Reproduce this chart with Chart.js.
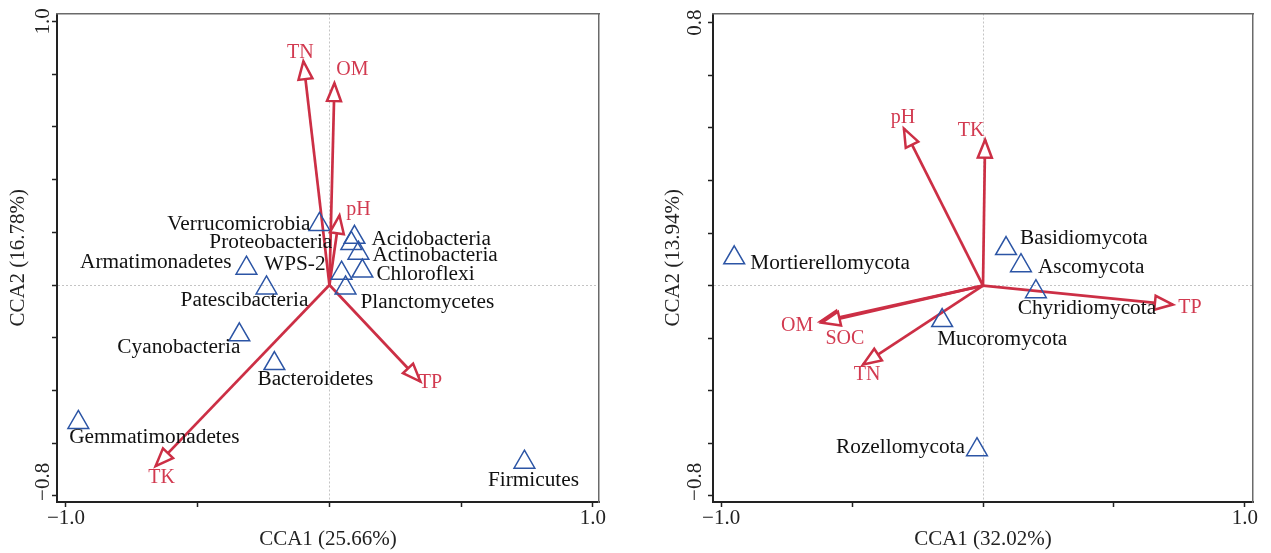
<!DOCTYPE html>
<html lang="en">
<head>
<meta charset="UTF-8">
<title>CCA</title>
<style>
  html, body { margin: 0; padding: 0; background: #fff; }
  .wrap { position: relative; width: 1271px; height: 553px; }
  #left { position: absolute; left: 0; top: 0; }
  #right { position: absolute; left: 640px; top: 0; }
</style>
</head>
<body>
<div class="wrap">
  <canvas id="left" width="640" height="553"></canvas>
  <canvas id="right" width="631" height="553"></canvas>
</div>

<script src="https://cdn.jsdelivr.net/npm/chart.js@4.4.9/dist/chart.umd.min.js"></script>
<script>
// bacteria panel
const bactNames = ['Verrucomicrobia', 'Proteobacteria', 'Acidobacteria', 'Actinobacteria', 'Chloroflexi', 'WPS-2',
    'Planctomycetes', 'Armatimonadetes', 'Patescibacteria', 'Cyanobacteria', 'Bacteroidetes', 'Gemmatimonadetes', 'Firmicutes'];
const bactX = [-0.038, 0.083, 0.095, 0.110, 0.125, 0.046, 0.061, -0.315, -0.239, -0.342, -0.209, -0.953, 0.740];
const bactY = [0.230, 0.158, 0.181, 0.121, 0.053, 0.045, -0.011, 0.064, -0.011, -0.189, -0.298, -0.521, -0.672];
const bactEnv = ['TN', 'OM', 'pH', 'TP', 'TK'];
const bactEnvX = [-0.099, 0.019, 0.038, 0.345, -0.660];
const bactEnvY = [0.849, 0.766, 0.264, -0.366, -0.687];

// fungi panel
const fungiNames = ['Mortierellomycota', 'Basidiomycota', 'Ascomycota', 'Chyridiomycota', 'Mucoromycota', 'Rozellomycota'];
const fungiX = [-0.950, 0.088, 0.145, 0.202, -0.156, -0.023];
const fungiY = [0.106, 0.141, 0.076, -0.023, -0.133, -0.624];
const fungiEnv = ['pH', 'TK', 'TP', 'OM', 'SOC', 'TN'];
const fungiEnvX = [-0.302, 0.008, 0.725, -0.622, -0.615, -0.458];
const fungiEnvY = [0.597, 0.555, -0.072, -0.137, -0.141, -0.300];

// ticks
const xTicks = [-1, -0.5, 0, 0.5, 1];
const xTickLabels = ['−1.0', '', '', '', '1.0'];
const yTicks = [-0.8, -0.6, -0.4, -0.2, 0, 0.2, 0.4, 0.6, 0.8, 1.0];
const bactYTickLabels = ['−0.8', '', '', '', '', '', '', '', '', '1.0'];
const fungiYTickLabels = ['−0.8', '', '', '', '', '', '', '', '', '0.8'];

// label placement (align, dx, dy in px from the point)
const bactLabelPos = [['right', -9, 0], ['right', -19, -1], ['left', 17, 2], ['left', 14, 2], ['left', 14, 3], ['right', -16, -9],
    ['left', 15, 14], ['right', -15, -6], ['center', -22, 12], ['right', 1, 13], ['center', 41, 16], ['center', 76, 15], ['center', 9, 18]];
const bactEnvLabelPos = [[-3, -8], [18, -13], [19, -6], [10, 1], [6, 12]];
const fungiLabelPos = [['left', 16, 6], ['left', 14, -10], ['left', 17, 2], ['center', 51, 17], ['left', -5, 19], ['right', -12, -2]];
const fungiEnvLabelPos = [[-1, -11], [-14, -9], [17, 3], [-23, 4], [23, 16], [4, 10]];

const RED = '#cc2f45';
const RED_TEXT = '#d23a50';
const BLUE = '#2c55a5';
const FONT = "'Liberation Serif', 'Times New Roman', serif";

function arrowHead(ctx, x0, y0, x1, y1) {
    const a = Math.atan2(y1 - y0, x1 - x0);
    const L = 18, W = 7;
    const bx = x1 - L * Math.cos(a), by = y1 - L * Math.sin(a);
    ctx.beginPath();
    ctx.moveTo(x1, y1);
    ctx.lineTo(bx + W * Math.sin(a), by - W * Math.cos(a));
    ctx.lineTo(bx - W * Math.sin(a), by + W * Math.cos(a));
    ctx.closePath();
    ctx.fillStyle = '#fff';
    ctx.fill();
    ctx.strokeStyle = RED;
    ctx.lineWidth = 2.5;
    ctx.stroke();
}

const ccaPlugin = {
    id: 'cca',
    afterDatasetsDraw(chart, args, o) {
        const { ctx, chartArea } = chart;
        const x = chart.scales.x, y = chart.scales.y;
        const x0 = x.getPixelForValue(0), y0 = y.getPixelForValue(0);
        ctx.save();

        o.envX.forEach((vx, i) => {
            arrowHead(ctx, x0, y0, x.getPixelForValue(vx), y.getPixelForValue(o.envY[i]));
        });

        ctx.font = '21.3px ' + FONT;
        ctx.textBaseline = 'middle';
        ctx.fillStyle = '#111';
        o.names.forEach((n, i) => {
            const [al, dx, dy] = o.namePos[i];
            ctx.textAlign = al;
            ctx.fillText(n, x.getPixelForValue(o.spX[i]) + dx, y.getPixelForValue(o.spY[i]) + dy);
        });

        ctx.font = '20px ' + FONT;
        ctx.fillStyle = RED_TEXT;
        ctx.textAlign = 'center';
        o.env.forEach((n, i) => {
            const [dx, dy] = o.envPos[i];
            ctx.fillText(n, x.getPixelForValue(o.envX[i]) + dx, y.getPixelForValue(o.envY[i]) + dy);
        });

        // rotated y tick labels (negative one ends just below its tick)
        ctx.font = '21px ' + FONT;
        ctx.fillStyle = '#222';
        ctx.textAlign = 'left';
        yTicks.forEach((v, i) => {
            const t = o.yLabels[i];
            if (!t) return;
            const w = ctx.measureText(t).width;
            const py = y.getPixelForValue(v);
            ctx.save();
            ctx.translate(chartArea.left - o.yLabelGap, t.startsWith('−') ? py + 5 : py + w / 2);
            ctx.rotate(-Math.PI / 2);
            ctx.fillText(t, 0, 0);
            ctx.restore();
        });
        ctx.restore();
    }
};

function makeChart(id, p) {
    const datasets = [{
        label: 'taxa',
        data: p.spX.map((v, i) => ({ x: v, y: p.spY[i] })),
        pointStyle: 'triangle',
        pointRadius: 12,
        pointHoverRadius: 12,
        borderColor: BLUE,
        backgroundColor: 'rgba(255,255,255,0)',
        borderWidth: 1.5
    }];
    p.envX.forEach((v, i) => {
        datasets.push({
            label: p.env[i],
            data: [{ x: 0, y: 0 }, { x: v, y: p.envY[i] }],
            showLine: true,
            pointRadius: 0,
            pointHoverRadius: 0,
            borderColor: RED,
            borderWidth: 2.7
        });
    });

    const frame = (pos, fit) => ({
        type: 'linear', position: pos,
        min: pos === 'top' ? p.xMin : p.yMin,
        max: pos === 'top' ? p.xMax : p.yMax,
        ticks: { display: false },
        grid: { display: false, drawTicks: false },
        border: { color: '#6a6a6a', width: 1.5 },
        afterFit: fit
    });

    return new Chart(document.getElementById(id), {
        type: 'scatter',
        data: { datasets },
        plugins: [ccaPlugin],
        options: {
            responsive: false,
            animation: false,
            devicePixelRatio: 1,
            layout: { padding: 0 },
            plugins: {
                legend: { display: false },
                tooltip: { enabled: false },
                cca: {
                    names: p.names, spX: p.spX, spY: p.spY, namePos: p.namePos,
                    env: p.env, envX: p.envX, envY: p.envY, envPos: p.envPos,
                    yLabels: p.yLabels, yLabelGap: p.yLabelGap
                }
            },
            scales: {
                x: {
                    type: 'linear', position: 'bottom', min: p.xMin, max: p.xMax,
                    afterBuildTicks: s => { s.ticks = xTicks.map(v => ({ value: v })); },
                    afterFit: s => { s.height = 51; },
                    ticks: {
                        callback: (v, i) => xTickLabels[i],
                        font: { family: FONT, size: 21 }, color: '#222',
                        padding: -1, maxRotation: 0, autoSkip: false
                    },
                    grid: {
                        color: c => (c.tick && c.tick.value === 0) ? '#c4c4c4' : 'rgba(0,0,0,0)',
                        lineWidth: 1, tickColor: '#222', tickLength: 5, tickWidth: 1.5
                    },
                    border: { color: '#222', width: 2, dash: [2, 2] },
                    title: {
                        display: true, text: p.xTitle, color: '#222',
                        font: { family: FONT, size: 21 }, padding: { top: 0, bottom: 0.5 }
                    }
                },
                y: {
                    type: 'linear', position: 'left', min: p.yMin, max: p.yMax,
                    afterBuildTicks: s => { s.ticks = yTicks.map(v => ({ value: v })); },
                    afterFit: s => { s.width = p.yWidth; },
                    ticks: { display: false },
                    grid: {
                        color: c => (c.tick && Math.abs(c.tick.value) < 1e-9) ? '#c4c4c4' : 'rgba(0,0,0,0)',
                        lineWidth: 1, tickColor: '#222', tickLength: 5, tickWidth: 1.5
                    },
                    border: { color: '#222', width: 2, dash: [2, 2] },
                    title: {
                        display: true, text: p.yTitle, color: '#222',
                        font: { family: FONT, size: 21 }, padding: { top: p.yTitlePad, bottom: 0 }
                    }
                },
                x2: frame('top', s => { s.height = 11; }),
                y2: frame('right', s => { s.width = p.rightGap; })
            }
        }
    });
}

makeChart('left', {
    names: bactNames, spX: bactX, spY: bactY, namePos: bactLabelPos,
    env: bactEnv, envX: bactEnvX, envY: bactEnvY, envPos: bactEnvLabelPos,
    xMin: -1.034, xMax: 1.023, yMin: -0.823, yMax: 1.030,
    xTitle: 'CCA1 (25.66%)', yTitle: 'CCA2 (16.78%)',
    yLabels: bactYTickLabels, yLabelGap: 14,
    yWidth: 57, rightGap: 41, yTitlePad: 5.4
});

makeChart('right', {
    names: fungiNames, spX: fungiX, spY: fungiY, namePos: fungiLabelPos,
    env: fungiEnv, envX: fungiEnvX, envY: fungiEnvY, envPos: fungiEnvLabelPos,
    xMin: -1.031, xMax: 1.031, yMin: -0.823, yMax: 1.035,
    xTitle: 'CCA1 (32.02%)', yTitle: 'CCA2 (13.94%)',
    yLabels: fungiYTickLabels, yLabelGap: 18,
    yWidth: 73, rightGap: 18, yTitlePad: 20.4
});
</script>
</body>
</html>
